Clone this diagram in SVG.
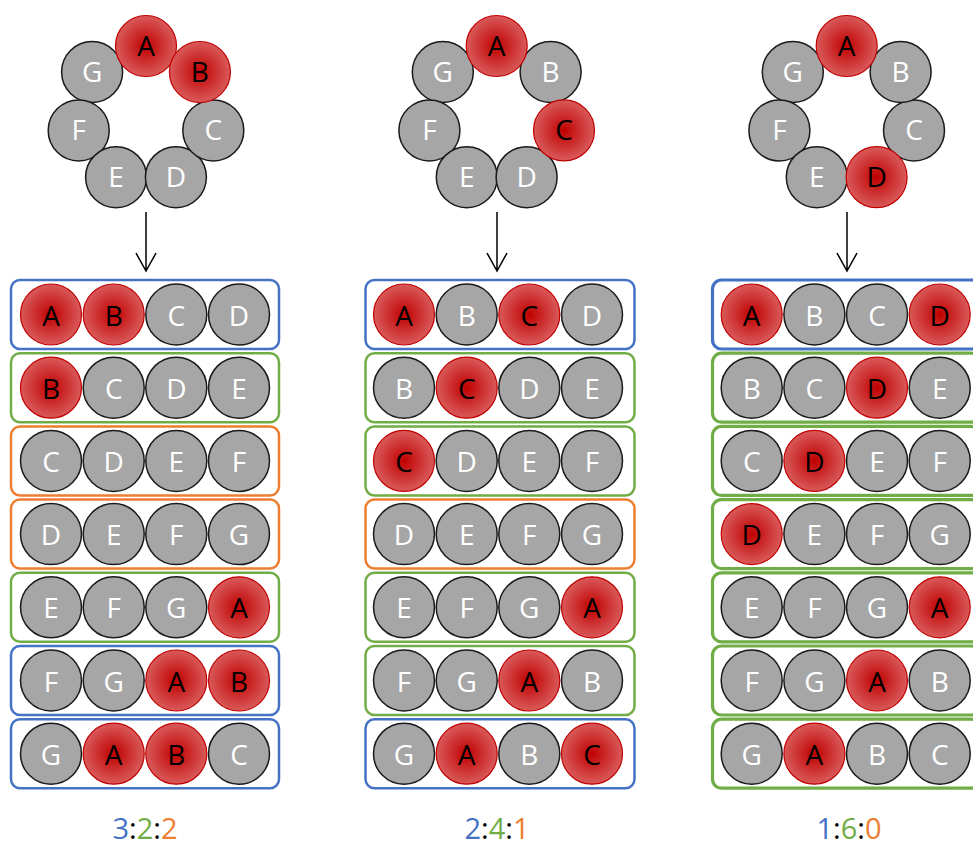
<svg xmlns="http://www.w3.org/2000/svg" width="973" height="848" viewBox="0 0 973 848">
<defs>
<radialGradient id="redg" cx="50%" cy="50%" r="50%">
<stop offset="0" stop-color="#C00000"/>
<stop offset="1" stop-color="#D95A5A"/>
</radialGradient>
<style>
.g{fill:#A6A6A6;stroke:#1A1A1A;stroke-width:1.5}
.r{fill:url(#redg);stroke:#C00000;stroke-width:1.2}
text{font-family:"Open Sans","Noto Sans","Liberation Sans",sans-serif;font-size:28px;text-anchor:middle}
.tw{fill:#FFFFFF}
.tb{fill:#000000}
.bb{fill:none;stroke:#4472C4;stroke-width:2.5}
.bg{fill:none;stroke:#70AD47;stroke-width:2.5}
.bo{fill:none;stroke:#ED7D31;stroke-width:2.5}
.thick{stroke-width:3.2}
.arr{fill:none;stroke:#000;stroke-width:1.5}
.lbl{font-size:29px}
.cb{fill:#4472C4}.cg{fill:#70AD47}.co{fill:#ED7D31}.ck{fill:#000}
</style>
</defs>
<rect width="973" height="848" fill="#FFFFFF"/>

<!-- Left ring -->
<g id="L-ring">
<g id="L-ring-G"><circle class="g" cx="92.1" cy="72" r="30.5"/><text class="tw" x="92.1" y="82">G</text></g>
<g id="L-ring-F"><circle class="g" cx="78.7" cy="130.4" r="30.5"/><text class="tw" x="78.7" y="140.4">F</text></g>
<g id="L-ring-E"><circle class="g" cx="116.1" cy="177.2" r="30.5"/><text class="tw" x="116.1" y="187.2">E</text></g>
<g id="L-ring-D"><circle class="g" cx="175.9" cy="177.2" r="30.5"/><text class="tw" x="175.9" y="187.2">D</text></g>
<g id="L-ring-C"><circle class="g" cx="213.3" cy="130.4" r="30.5"/><text class="tw" x="213.3" y="140.4">C</text></g>
<g id="L-ring-A"><circle class="r" cx="146" cy="46" r="30.5"/><text class="tb" x="146" y="56">A</text></g>
<g id="L-ring-B"><circle class="r" cx="199.9" cy="72" r="30.5"/><text class="tb" x="199.9" y="82">B</text></g>
</g>

<!-- Middle ring -->
<g id="M-ring">
<g id="M-ring-G"><circle class="g" cx="442.8" cy="72" r="30.5"/><text class="tw" x="442.8" y="82">G</text></g>
<g id="M-ring-F"><circle class="g" cx="429.4" cy="130.4" r="30.5"/><text class="tw" x="429.4" y="140.4">F</text></g>
<g id="M-ring-E"><circle class="g" cx="466.8" cy="177.2" r="30.5"/><text class="tw" x="466.8" y="187.2">E</text></g>
<g id="M-ring-D"><circle class="g" cx="526.6" cy="177.2" r="30.5"/><text class="tw" x="526.6" y="187.2">D</text></g>
<g id="M-ring-B"><circle class="g" cx="550.6" cy="72" r="30.5"/><text class="tw" x="550.6" y="82">B</text></g>
<g id="M-ring-C"><circle class="r" cx="564" cy="130.4" r="30.5"/><text class="tb" x="564" y="140.4">C</text></g>
<g id="M-ring-A"><circle class="r" cx="496.7" cy="46" r="30.5"/><text class="tb" x="496.7" y="56">A</text></g>
</g>

<!-- Right ring -->
<g id="R-ring">
<g id="R-ring-G"><circle class="g" cx="792.8" cy="72" r="30.5"/><text class="tw" x="792.8" y="82">G</text></g>
<g id="R-ring-F"><circle class="g" cx="779.4" cy="130.4" r="30.5"/><text class="tw" x="779.4" y="140.4">F</text></g>
<g id="R-ring-E"><circle class="g" cx="816.8" cy="177.2" r="30.5"/><text class="tw" x="816.8" y="187.2">E</text></g>
<g id="R-ring-C"><circle class="g" cx="914" cy="130.4" r="30.5"/><text class="tw" x="914" y="140.4">C</text></g>
<g id="R-ring-B"><circle class="g" cx="900.6" cy="72" r="30.5"/><text class="tw" x="900.6" y="82">B</text></g>
<g id="R-ring-D"><circle class="r" cx="876.6" cy="177.2" r="30.5"/><text class="tb" x="876.6" y="187.2">D</text></g>
<g id="R-ring-A"><circle class="r" cx="846.7" cy="46" r="30.5"/><text class="tb" x="846.7" y="56">A</text></g>
</g>

<!-- Connectors -->
<g id="connectors">
<path class="arr" d="M146 212 V271 M136 253 L146 271 L156 253"/>
<path class="arr" d="M497 212 V271 M487 253 L497 271 L507 253"/>
<path class="arr" d="M847 212 V271 M837 253 L847 271 L857 253"/>
</g>

<!-- Left rows -->
<g id="L-row1"><rect class="bb" x="11" y="280" width="268" height="69" rx="9"/>
<circle class="r" cx="51" cy="314.5" r="30.5"/><text class="tb" x="51" y="325.5">A</text>
<circle class="r" cx="113.7" cy="314.5" r="30.5"/><text class="tb" x="113.7" y="325.5">B</text>
<circle class="g" cx="176.3" cy="314.5" r="30.5"/><text class="tw" x="176.3" y="325.5">C</text>
<circle class="g" cx="239" cy="314.5" r="30.5"/><text class="tw" x="239" y="325.5">D</text></g>
<g id="L-row2"><rect class="bg" x="11" y="353.2" width="268" height="69" rx="9"/>
<circle class="r" cx="51" cy="387.7" r="30.5"/><text class="tb" x="51" y="398.7">B</text>
<circle class="g" cx="113.7" cy="387.7" r="30.5"/><text class="tw" x="113.7" y="398.7">C</text>
<circle class="g" cx="176.3" cy="387.7" r="30.5"/><text class="tw" x="176.3" y="398.7">D</text>
<circle class="g" cx="239" cy="387.7" r="30.5"/><text class="tw" x="239" y="398.7">E</text></g>
<g id="L-row3"><rect class="bo" x="11" y="426.4" width="268" height="69" rx="9"/>
<circle class="g" cx="51" cy="460.9" r="30.5"/><text class="tw" x="51" y="471.9">C</text>
<circle class="g" cx="113.7" cy="460.9" r="30.5"/><text class="tw" x="113.7" y="471.9">D</text>
<circle class="g" cx="176.3" cy="460.9" r="30.5"/><text class="tw" x="176.3" y="471.9">E</text>
<circle class="g" cx="239" cy="460.9" r="30.5"/><text class="tw" x="239" y="471.9">F</text></g>
<g id="L-row4"><rect class="bo" x="11" y="499.6" width="268" height="69" rx="9"/>
<circle class="g" cx="51" cy="534.1" r="30.5"/><text class="tw" x="51" y="545.1">D</text>
<circle class="g" cx="113.7" cy="534.1" r="30.5"/><text class="tw" x="113.7" y="545.1">E</text>
<circle class="g" cx="176.3" cy="534.1" r="30.5"/><text class="tw" x="176.3" y="545.1">F</text>
<circle class="g" cx="239" cy="534.1" r="30.5"/><text class="tw" x="239" y="545.1">G</text></g>
<g id="L-row5"><rect class="bg" x="11" y="572.8" width="268" height="69" rx="9"/>
<circle class="g" cx="51" cy="607.3" r="30.5"/><text class="tw" x="51" y="618.3">E</text>
<circle class="g" cx="113.7" cy="607.3" r="30.5"/><text class="tw" x="113.7" y="618.3">F</text>
<circle class="g" cx="176.3" cy="607.3" r="30.5"/><text class="tw" x="176.3" y="618.3">G</text>
<circle class="r" cx="239" cy="607.3" r="30.5"/><text class="tb" x="239" y="618.3">A</text></g>
<g id="L-row6"><rect class="bb" x="11" y="646" width="268" height="69" rx="9"/>
<circle class="g" cx="51" cy="680.5" r="30.5"/><text class="tw" x="51" y="691.5">F</text>
<circle class="g" cx="113.7" cy="680.5" r="30.5"/><text class="tw" x="113.7" y="691.5">G</text>
<circle class="r" cx="176.3" cy="680.5" r="30.5"/><text class="tb" x="176.3" y="691.5">A</text>
<circle class="r" cx="239" cy="680.5" r="30.5"/><text class="tb" x="239" y="691.5">B</text></g>
<g id="L-row7"><rect class="bb" x="11" y="719.2" width="268" height="69" rx="9"/>
<circle class="g" cx="51" cy="753.7" r="30.5"/><text class="tw" x="51" y="764.7">G</text>
<circle class="r" cx="113.7" cy="753.7" r="30.5"/><text class="tb" x="113.7" y="764.7">A</text>
<circle class="r" cx="176.3" cy="753.7" r="30.5"/><text class="tb" x="176.3" y="764.7">B</text>
<circle class="g" cx="239" cy="753.7" r="30.5"/><text class="tw" x="239" y="764.7">C</text></g>

<!-- Middle rows -->
<g id="M-row1"><rect class="bb" x="365.5" y="280" width="269" height="69" rx="9"/>
<circle class="r" cx="404" cy="314.5" r="30.5"/><text class="tb" x="404" y="325.5">A</text>
<circle class="g" cx="466.7" cy="314.5" r="30.5"/><text class="tw" x="466.7" y="325.5">B</text>
<circle class="r" cx="529.3" cy="314.5" r="30.5"/><text class="tb" x="529.3" y="325.5">C</text>
<circle class="g" cx="592" cy="314.5" r="30.5"/><text class="tw" x="592" y="325.5">D</text></g>
<g id="M-row2"><rect class="bg" x="365.5" y="353.2" width="269" height="69" rx="9"/>
<circle class="g" cx="404" cy="387.7" r="30.5"/><text class="tw" x="404" y="398.7">B</text>
<circle class="r" cx="466.7" cy="387.7" r="30.5"/><text class="tb" x="466.7" y="398.7">C</text>
<circle class="g" cx="529.3" cy="387.7" r="30.5"/><text class="tw" x="529.3" y="398.7">D</text>
<circle class="g" cx="592" cy="387.7" r="30.5"/><text class="tw" x="592" y="398.7">E</text></g>
<g id="M-row3"><rect class="bg" x="365.5" y="426.4" width="269" height="69" rx="9"/>
<circle class="r" cx="404" cy="460.9" r="30.5"/><text class="tb" x="404" y="471.9">C</text>
<circle class="g" cx="466.7" cy="460.9" r="30.5"/><text class="tw" x="466.7" y="471.9">D</text>
<circle class="g" cx="529.3" cy="460.9" r="30.5"/><text class="tw" x="529.3" y="471.9">E</text>
<circle class="g" cx="592" cy="460.9" r="30.5"/><text class="tw" x="592" y="471.9">F</text></g>
<g id="M-row4"><rect class="bo" x="365.5" y="499.6" width="269" height="69" rx="9"/>
<circle class="g" cx="404" cy="534.1" r="30.5"/><text class="tw" x="404" y="545.1">D</text>
<circle class="g" cx="466.7" cy="534.1" r="30.5"/><text class="tw" x="466.7" y="545.1">E</text>
<circle class="g" cx="529.3" cy="534.1" r="30.5"/><text class="tw" x="529.3" y="545.1">F</text>
<circle class="g" cx="592" cy="534.1" r="30.5"/><text class="tw" x="592" y="545.1">G</text></g>
<g id="M-row5"><rect class="bg" x="365.5" y="572.8" width="269" height="69" rx="9"/>
<circle class="g" cx="404" cy="607.3" r="30.5"/><text class="tw" x="404" y="618.3">E</text>
<circle class="g" cx="466.7" cy="607.3" r="30.5"/><text class="tw" x="466.7" y="618.3">F</text>
<circle class="g" cx="529.3" cy="607.3" r="30.5"/><text class="tw" x="529.3" y="618.3">G</text>
<circle class="r" cx="592" cy="607.3" r="30.5"/><text class="tb" x="592" y="618.3">A</text></g>
<g id="M-row6"><rect class="bg" x="365.5" y="646" width="269" height="69" rx="9"/>
<circle class="g" cx="404" cy="680.5" r="30.5"/><text class="tw" x="404" y="691.5">F</text>
<circle class="g" cx="466.7" cy="680.5" r="30.5"/><text class="tw" x="466.7" y="691.5">G</text>
<circle class="r" cx="529.3" cy="680.5" r="30.5"/><text class="tb" x="529.3" y="691.5">A</text>
<circle class="g" cx="592" cy="680.5" r="30.5"/><text class="tw" x="592" y="691.5">B</text></g>
<g id="M-row7"><rect class="bb" x="365.5" y="719.2" width="269" height="69" rx="9"/>
<circle class="g" cx="404" cy="753.7" r="30.5"/><text class="tw" x="404" y="764.7">G</text>
<circle class="r" cx="466.7" cy="753.7" r="30.5"/><text class="tb" x="466.7" y="764.7">A</text>
<circle class="g" cx="529.3" cy="753.7" r="30.5"/><text class="tw" x="529.3" y="764.7">B</text>
<circle class="r" cx="592" cy="753.7" r="30.5"/><text class="tb" x="592" y="764.7">C</text></g>

<!-- Right rows -->
<g id="R-row1"><rect class="bb thick" x="712.5" y="280" width="268" height="69" rx="9"/>
<circle class="r" cx="751.7" cy="314.5" r="30.5"/><text class="tb" x="751.7" y="325.5">A</text>
<circle class="g" cx="814.4" cy="314.5" r="30.5"/><text class="tw" x="814.4" y="325.5">B</text>
<circle class="g" cx="877" cy="314.5" r="30.5"/><text class="tw" x="877" y="325.5">C</text>
<circle class="r" cx="939.7" cy="314.5" r="30.5"/><text class="tb" x="939.7" y="325.5">D</text></g>
<g id="R-row2"><rect class="bg thick" x="712.5" y="353.2" width="268" height="69" rx="9"/>
<circle class="g" cx="751.7" cy="387.7" r="30.5"/><text class="tw" x="751.7" y="398.7">B</text>
<circle class="g" cx="814.4" cy="387.7" r="30.5"/><text class="tw" x="814.4" y="398.7">C</text>
<circle class="r" cx="877" cy="387.7" r="30.5"/><text class="tb" x="877" y="398.7">D</text>
<circle class="g" cx="939.7" cy="387.7" r="30.5"/><text class="tw" x="939.7" y="398.7">E</text></g>
<g id="R-row3"><rect class="bg thick" x="712.5" y="426.4" width="268" height="69" rx="9"/>
<circle class="g" cx="751.7" cy="460.9" r="30.5"/><text class="tw" x="751.7" y="471.9">C</text>
<circle class="r" cx="814.4" cy="460.9" r="30.5"/><text class="tb" x="814.4" y="471.9">D</text>
<circle class="g" cx="877" cy="460.9" r="30.5"/><text class="tw" x="877" y="471.9">E</text>
<circle class="g" cx="939.7" cy="460.9" r="30.5"/><text class="tw" x="939.7" y="471.9">F</text></g>
<g id="R-row4"><rect class="bg thick" x="712.5" y="499.6" width="268" height="69" rx="9"/>
<circle class="r" cx="751.7" cy="534.1" r="30.5"/><text class="tb" x="751.7" y="545.1">D</text>
<circle class="g" cx="814.4" cy="534.1" r="30.5"/><text class="tw" x="814.4" y="545.1">E</text>
<circle class="g" cx="877" cy="534.1" r="30.5"/><text class="tw" x="877" y="545.1">F</text>
<circle class="g" cx="939.7" cy="534.1" r="30.5"/><text class="tw" x="939.7" y="545.1">G</text></g>
<g id="R-row5"><rect class="bg thick" x="712.5" y="572.8" width="268" height="69" rx="9"/>
<circle class="g" cx="751.7" cy="607.3" r="30.5"/><text class="tw" x="751.7" y="618.3">E</text>
<circle class="g" cx="814.4" cy="607.3" r="30.5"/><text class="tw" x="814.4" y="618.3">F</text>
<circle class="g" cx="877" cy="607.3" r="30.5"/><text class="tw" x="877" y="618.3">G</text>
<circle class="r" cx="939.7" cy="607.3" r="30.5"/><text class="tb" x="939.7" y="618.3">A</text></g>
<g id="R-row6"><rect class="bg thick" x="712.5" y="646" width="268" height="69" rx="9"/>
<circle class="g" cx="751.7" cy="680.5" r="30.5"/><text class="tw" x="751.7" y="691.5">F</text>
<circle class="g" cx="814.4" cy="680.5" r="30.5"/><text class="tw" x="814.4" y="691.5">G</text>
<circle class="r" cx="877" cy="680.5" r="30.5"/><text class="tb" x="877" y="691.5">A</text>
<circle class="g" cx="939.7" cy="680.5" r="30.5"/><text class="tw" x="939.7" y="691.5">B</text></g>
<g id="R-row7"><rect class="bg thick" x="712.5" y="719.2" width="268" height="69" rx="9"/>
<circle class="g" cx="751.7" cy="753.7" r="30.5"/><text class="tw" x="751.7" y="764.7">G</text>
<circle class="r" cx="814.4" cy="753.7" r="30.5"/><text class="tb" x="814.4" y="764.7">A</text>
<circle class="g" cx="877" cy="753.7" r="30.5"/><text class="tw" x="877" y="764.7">B</text>
<circle class="g" cx="939.7" cy="753.7" r="30.5"/><text class="tw" x="939.7" y="764.7">C</text></g>

<!-- Ratio labels -->
<g id="labels">
<text class="lbl" x="145" y="839"><tspan class="cb">3</tspan><tspan class="ck">:</tspan><tspan class="cg">2</tspan><tspan class="ck">:</tspan><tspan class="co">2</tspan></text>
<text class="lbl" x="497" y="839"><tspan class="cb">2</tspan><tspan class="ck">:</tspan><tspan class="cg">4</tspan><tspan class="ck">:</tspan><tspan class="co">1</tspan></text>
<text class="lbl" x="849" y="839"><tspan class="cb">1</tspan><tspan class="ck">:</tspan><tspan class="cg">6</tspan><tspan class="ck">:</tspan><tspan class="co">0</tspan></text>
</g>
</svg>
